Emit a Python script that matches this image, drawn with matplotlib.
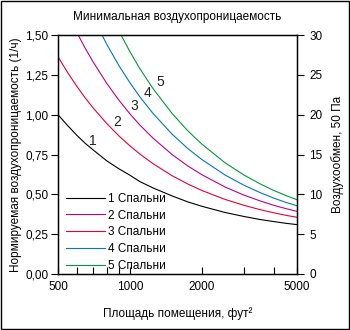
import numpy as np
import matplotlib
matplotlib.use("Agg")
import matplotlib.pyplot as plt
from matplotlib.lines import Line2D
from matplotlib.patches import Rectangle
from matplotlib.ticker import FixedLocator, FixedFormatter, NullFormatter

plt.rcParams['font.family'] = ['Liberation Sans', 'DejaVu Sans']
plt.rcParams['font.size'] = 8.5

# floor area, ft^2
area = [500, 550, 600, 650, 700, 800, 900, 1000, 1100, 1250, 1500, 1750, 2000, 2500, 3000, 3500, 4000, 4500, 5000]

# normalized leakage (1/h), per number of bedrooms
ach_1 = [1.00, 0.93, 0.87, 0.82, 0.78, 0.71, 0.66, 0.62, 0.58, 0.54, 0.49, 0.452, 0.425, 0.386, 0.361, 0.342, 0.329, 0.318, 0.310]
ach_2 = [1.364, 1.262, 1.177, 1.105, 1.044, 0.944, 0.866, 0.804, 0.753, 0.692, 0.617, 0.564, 0.524, 0.468, 0.431, 0.404, 0.384, 0.368, 0.356]
ach_3 = [1.770, 1.631, 1.515, 1.417, 1.333, 1.196, 1.090, 1.005, 0.935, 0.852, 0.750, 0.677, 0.623, 0.546, 0.495, 0.459, 0.431, 0.410, 0.393]
ach_4 = [2.165, 1.990, 1.843, 1.720, 1.614, 1.441, 1.307, 1.200, 1.112, 1.007, 0.878, 0.786, 0.718, 0.621, 0.557, 0.511, 0.476, 0.449, 0.428]
ach_5 = [2.556, 2.345, 2.169, 2.020, 1.893, 1.685, 1.524, 1.395, 1.289, 1.163, 1.008, 0.897, 0.815, 0.698, 0.621, 0.566, 0.524, 0.492, 0.466]

curves = [ach_1, ach_2, ach_3, ach_4, ach_5]
curve_colors = ['#000000', '#e8003a', '#c0008c', '#0077c8', '#009a3a']
curve_nums = ['1', '2', '3', '4', '5']
# where the number labels sit (area, value)
num_pos = [(702, 0.833), (885, 0.957), (1040, 1.055), (1180, 1.135), (1335, 1.207)]

legend_labels = ['1 Спальни', '2 Спальни', '3 Спальни', '4 Спальни', '5 Спальни']
legend_colors = ['#000000', '#c0008c', '#e8003a', '#0077c8', '#009a3a']

left_ticks = [0, 0.25, 0.5, 0.75, 1.0, 1.25, 1.5]
left_labels = ['0,00', '0,25', '0,50', '0,75', '1,00', '1,25', '1,50']
right_ticks = [0, 5, 10, 15, 20, 25, 30]
x_major = [500, 1000, 2000, 5000]
x_minor = [600, 700, 800, 900, 3000, 4000]

fig = plt.figure(figsize=(3.5, 3.3), dpi=100)
fig.patches.append(Rectangle((0.002, 0.002), 0.995, 0.995, transform=fig.transFigure,
                             fill=False, edgecolor='black', linewidth=1))
ax = fig.add_axes([0.1657, 0.1697, 0.683, 0.7242])

for y, c in zip(curves, curve_colors):
    ax.plot(area, y, color=c, linewidth=0.8)
for (xp, yp), n in zip(num_pos, curve_nums):
    ax.text(xp, yp, n, fontsize=10, ha='center', va='center', color='#222222')

ax.set_xscale('log')
ax.set_xlim(500, 5000)
ax.set_ylim(0, 1.5)
ax.xaxis.set_major_locator(FixedLocator(x_major))
ax.xaxis.set_major_formatter(FixedFormatter([str(v) for v in x_major]))
ax.xaxis.set_minor_locator(FixedLocator(x_minor))
ax.xaxis.set_minor_formatter(NullFormatter())
ax.tick_params(axis='x', which='both', direction='in', length=5, width=0.8, pad=5)
ax.yaxis.set_major_locator(FixedLocator(left_ticks))
ax.yaxis.set_major_formatter(FixedFormatter(left_labels))
ax.tick_params(axis='y', direction='out', length=5, width=0.8, pad=2)
for s in ax.spines.values():
    s.set_linewidth(1.0)

ax2 = ax.twinx()
ax2.set_ylim(0, 30)
ax2.yaxis.set_major_locator(FixedLocator(right_ticks))
ax2.tick_params(axis='y', direction='out', length=5, width=0.8, pad=4)
ax2.set_ylabel('Воздухообмен, 50 Па', labelpad=6)

ax.set_ylabel('Нормируемая воздухопроницаемость (1/ч)', labelpad=2)
ax.set_xlabel('Площадь помещения, фут\u00b2', labelpad=10)
ax.set_title('Минимальная воздухопроницаемость', fontsize=8.5, pad=11)

handles = [Line2D([0], [0], color=c, linewidth=0.8) for c in legend_colors]
ax.legend(handles, legend_labels, loc='lower left', bbox_to_anchor=(0.0, -0.025),
          frameon=False, handlelength=3.3, handletextpad=0.2, labelspacing=0.4,
          borderaxespad=0.3, fontsize=8.5)

fig.savefig('out.png', dpi=100)
